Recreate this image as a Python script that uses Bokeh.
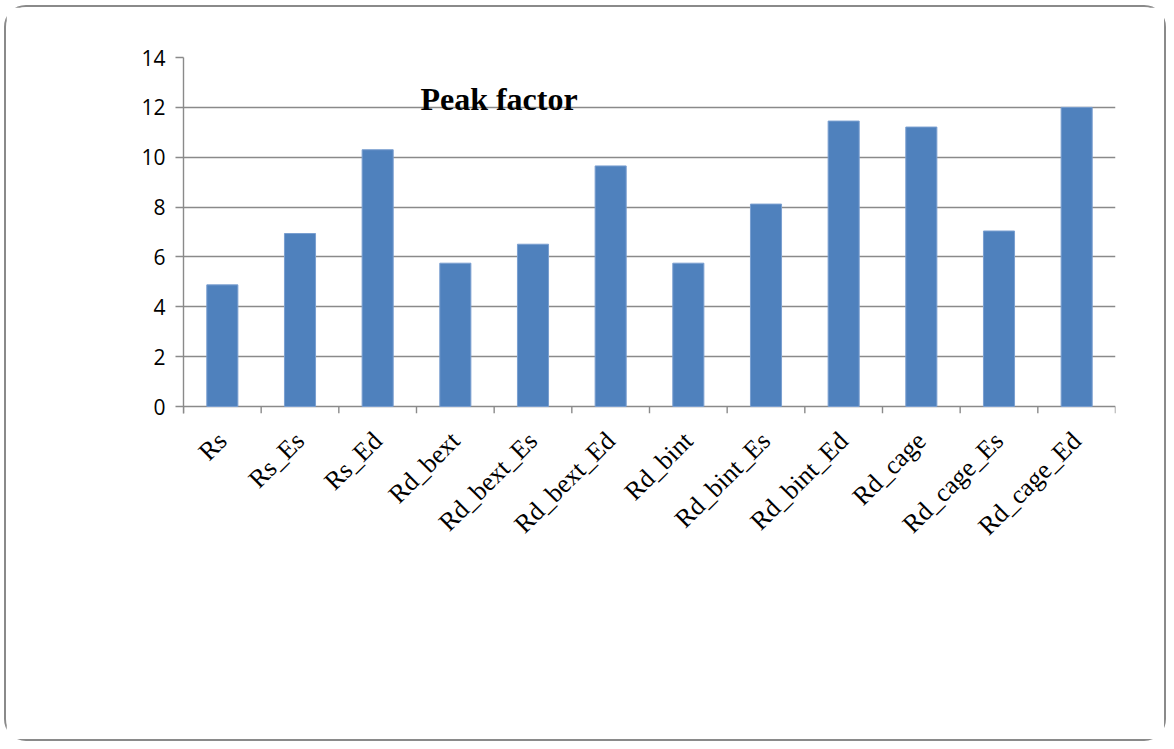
import math
from bokeh.plotting import figure
from bokeh.models import FixedTicker, LinearAxis, Range1d, Label
from bokeh.embed import file_html
from bokeh.resources import INLINE

categories = ["Rs", "Rs_Es", "Rs_Ed", "Rd_bext", "Rd_bext_Es", "Rd_bext_Ed",
              "Rd_bint", "Rd_bint_Es", "Rd_bint_Ed", "Rd_cage", "Rd_cage_Es", "Rd_cage_Ed"]
peak_factor = [4.88, 6.94, 10.30, 5.75, 6.51, 9.65, 5.75, 8.12, 11.45, 11.21, 7.04, 12.0]
y_ticks = [0, 2, 4, 6, 8, 10, 12, 14]
title_text = "Peak factor"

n = len(categories)
centers = [i + 0.5 for i in range(n)]
boundaries = list(range(n + 1))
GRAY = "#8a8a8a"
TICK = 0.28  # outer tick length below the category axis, in data units

p = figure(width=1158, height=732, x_range=Range1d(0, n), y_range=Range1d(-TICK, 14),
           x_axis_type=None, output_backend="svg", toolbar_location=None,
           min_border_left=177, min_border_top=50, min_border_right=49, min_border_bottom=326)
p.outline_line_color = None
p.background_fill_color = "white"
p.border_fill_color = "white"
p.styles = {"outline": "2px solid #8a8a8a", "outline-offset": "0px",
            "border-radius": "20px", "margin-left": "6px", "margin-top": "7px"}

# y axis / grid
p.ygrid.ticker = FixedTicker(ticks=y_ticks)
p.ygrid.grid_line_color = GRAY
p.ygrid.grid_line_width = 1.4
yax = p.yaxis[0]
yax.ticker = FixedTicker(ticks=y_ticks)
yax.axis_line_color = GRAY
yax.axis_line_width = 1.4
yax.major_tick_line_color = GRAY
yax.major_tick_line_width = 1.4
yax.major_tick_out = 8
yax.major_tick_in = 0
yax.minor_tick_line_color = None
yax.major_label_standoff = 10
yax.major_label_text_font = "Open Sans"
yax.major_label_text_font_size = "21px"
yax.major_label_text_color = "black"

# x axis: category labels
label_axis = LinearAxis(ticker=FixedTicker(ticks=centers))
label_axis.major_label_overrides = {c: cat for c, cat in zip(centers, categories)}
label_axis.axis_line_color = None
label_axis.major_tick_line_color = None
label_axis.major_tick_out = 0
label_axis.major_tick_in = 0
label_axis.minor_tick_line_color = None
label_axis.major_label_orientation = math.pi / 4
label_axis.major_label_standoff = 23
label_axis.major_label_text_font = "Liberation Serif"
label_axis.major_label_text_font_size = "26px"
label_axis.major_label_text_color = "black"
p.add_layout(label_axis, "below")

# category boundary ticks below the zero line
p.segment(x0=boundaries, y0=[0] * len(boundaries), x1=boundaries, y1=[-TICK] * len(boundaries),
          line_color=GRAY, line_width=1.4)

p.vbar(x=centers, top=peak_factor, bottom=0, width=0.4,
       fill_color="#4F81BD", line_color="#7A9FD0", line_width=1)

p.add_layout(Label(x=3.05, y=12.32, text=title_text, text_font="Liberation Serif",
                   text_font_size="32px", text_font_style="bold", text_color="black",
                   text_align="left", text_baseline="middle"))

open("out.html", "w").write(file_html(p, INLINE))
